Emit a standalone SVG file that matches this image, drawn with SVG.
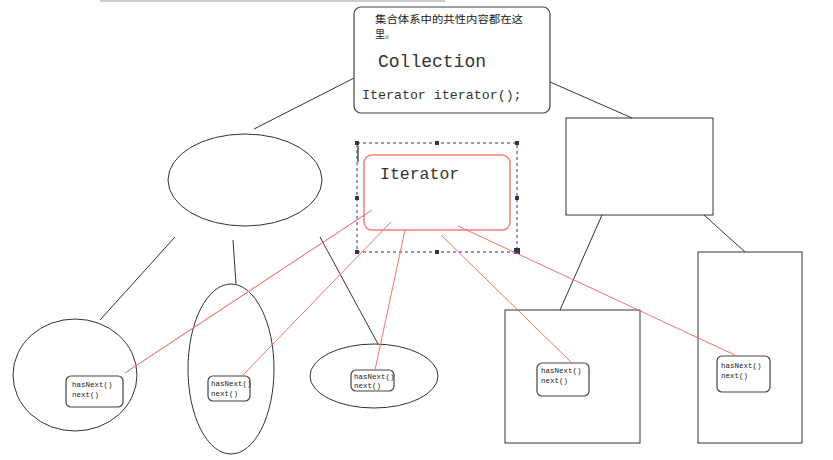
<svg xmlns="http://www.w3.org/2000/svg" width="833" height="460" viewBox="0 0 833 460">
<style>
.k{fill:none;stroke:#333;stroke-width:1}
.bx{fill:#fff;stroke:#444;stroke-width:1.2}
.r{fill:none;stroke:#f07070;stroke-width:1}
.m{font-family:"Liberation Mono",monospace;fill:#333}
.c{font-family:"Noto Sans CJK SC",sans-serif;font-size:10px;fill:#222}
.s{font-family:"Liberation Mono",monospace;font-size:7.5px;fill:#222}
.ib{fill:#fff;stroke:#444;stroke-width:1.2}
.h{fill:#335;stroke:none}
</style>
<rect width="833" height="460" fill="#fff"/>
<rect x="100" y="0" width="345" height="2" fill="#ccc"/>
<g id="connectors">
<line class="k" x1="358" y1="76" x2="254" y2="129"/>
<line class="k" x1="550" y1="82" x2="632" y2="118"/>
<line class="k" x1="175" y1="237" x2="100" y2="320"/>
<line class="k" x1="233" y1="240" x2="236" y2="284"/>
<line class="k" x1="320" y1="237" x2="378" y2="344"/>
<line class="k" x1="602" y1="215" x2="560" y2="310"/>
<line class="k" x1="704" y1="215" x2="745" y2="252"/>
</g>
<g id="collection">
<rect class="bx" x="354" y="7" width="196" height="106" rx="7"/>
<text class="c" x="375" y="23" textLength="148" lengthAdjust="spacingAndGlyphs">集合体系中的共性内容都在这</text>
<text class="c" x="375" y="37.5">里。</text>
<text class="m" x="378" y="67" font-size="18">Collection</text>
<text class="m" x="362" y="99" font-size="13.3">Iterator iterator();</text>
</g>
<g id="ellipse1"><ellipse class="k" cx="245" cy="180" rx="77" ry="46"/></g>
<g id="rect1"><rect class="k" x="566" y="118" width="147" height="97"/></g>
<g id="node-bl">
<ellipse class="k" cx="75" cy="375" rx="62" ry="56"/>
<rect class="ib" x="66" y="376" width="57" height="31" rx="5"/>
<text class="s" x="72" y="387">hasNext()</text><text class="s" x="72" y="397">next()</text>
</g>
<g id="node-tall">
<ellipse class="k" cx="231" cy="369" rx="43" ry="85"/>
<rect class="ib" x="208" y="376" width="42" height="25" rx="5"/>
<text class="s" x="211" y="386">hasNext()</text><text class="s" x="211" y="396">next()</text>
</g>
<g id="node-small">
<ellipse class="k" cx="374" cy="376" rx="64" ry="32"/>
<rect class="ib" x="351" y="370" width="43" height="21" rx="5"/>
<text class="s" x="354" y="379">hasNext()</text><text class="s" x="354" y="388">next()</text>
</g>
<g id="node-midrect">
<rect class="k" x="505" y="310" width="135" height="133"/>
<rect class="ib" x="537" y="363" width="52" height="33" rx="5"/>
<text class="s" x="541" y="373">hasNext()</text><text class="s" x="541" y="383">next()</text>
</g>
<g id="node-rightrect">
<rect class="k" x="698" y="252" width="104" height="191"/>
<rect class="ib" x="717" y="356" width="53" height="36" rx="5"/>
<text class="s" x="721" y="368">hasNext()</text><text class="s" x="721" y="378">next()</text>
</g>
<g id="iterator">
<rect x="357" y="143" width="160" height="109" fill="none" stroke="#336" stroke-width="1" stroke-dasharray="3,3"/>
<rect class="h" x="355" y="141" width="4" height="4"/><rect class="h" x="435" y="141" width="4" height="4"/><rect class="h" x="515" y="141" width="4" height="4"/>
<rect class="h" x="355" y="196" width="4" height="4"/><rect class="h" x="515" y="196" width="4" height="4"/>
<rect class="h" x="355" y="250" width="4" height="4"/><rect class="h" x="435" y="250" width="4" height="4"/><rect class="h" x="514" y="248" width="6" height="6"/>
<line x1="358" y1="146" x2="358" y2="162" stroke="#555" stroke-width="1.5"/>
<rect x="364" y="155" width="146" height="75" rx="8" fill="none" stroke="#f08080" stroke-width="1.5"/>
<text class="m" x="380" y="179" font-size="16.5" fill="#f06060">Iterator</text>
</g>
<g id="red-connectors">
<line class="r" x1="372" y1="210" x2="125" y2="373"/>
<line class="r" x1="369" y1="212" x2="128" y2="371" stroke-opacity="0.5"/>
<line class="r" x1="391" y1="222" x2="242" y2="376"/>
<line class="r" x1="405" y1="230" x2="375" y2="370"/>
<line class="r" x1="441" y1="235" x2="573" y2="364"/>
<line class="r" x1="458" y1="226" x2="737" y2="356"/>
</g>
</svg>
